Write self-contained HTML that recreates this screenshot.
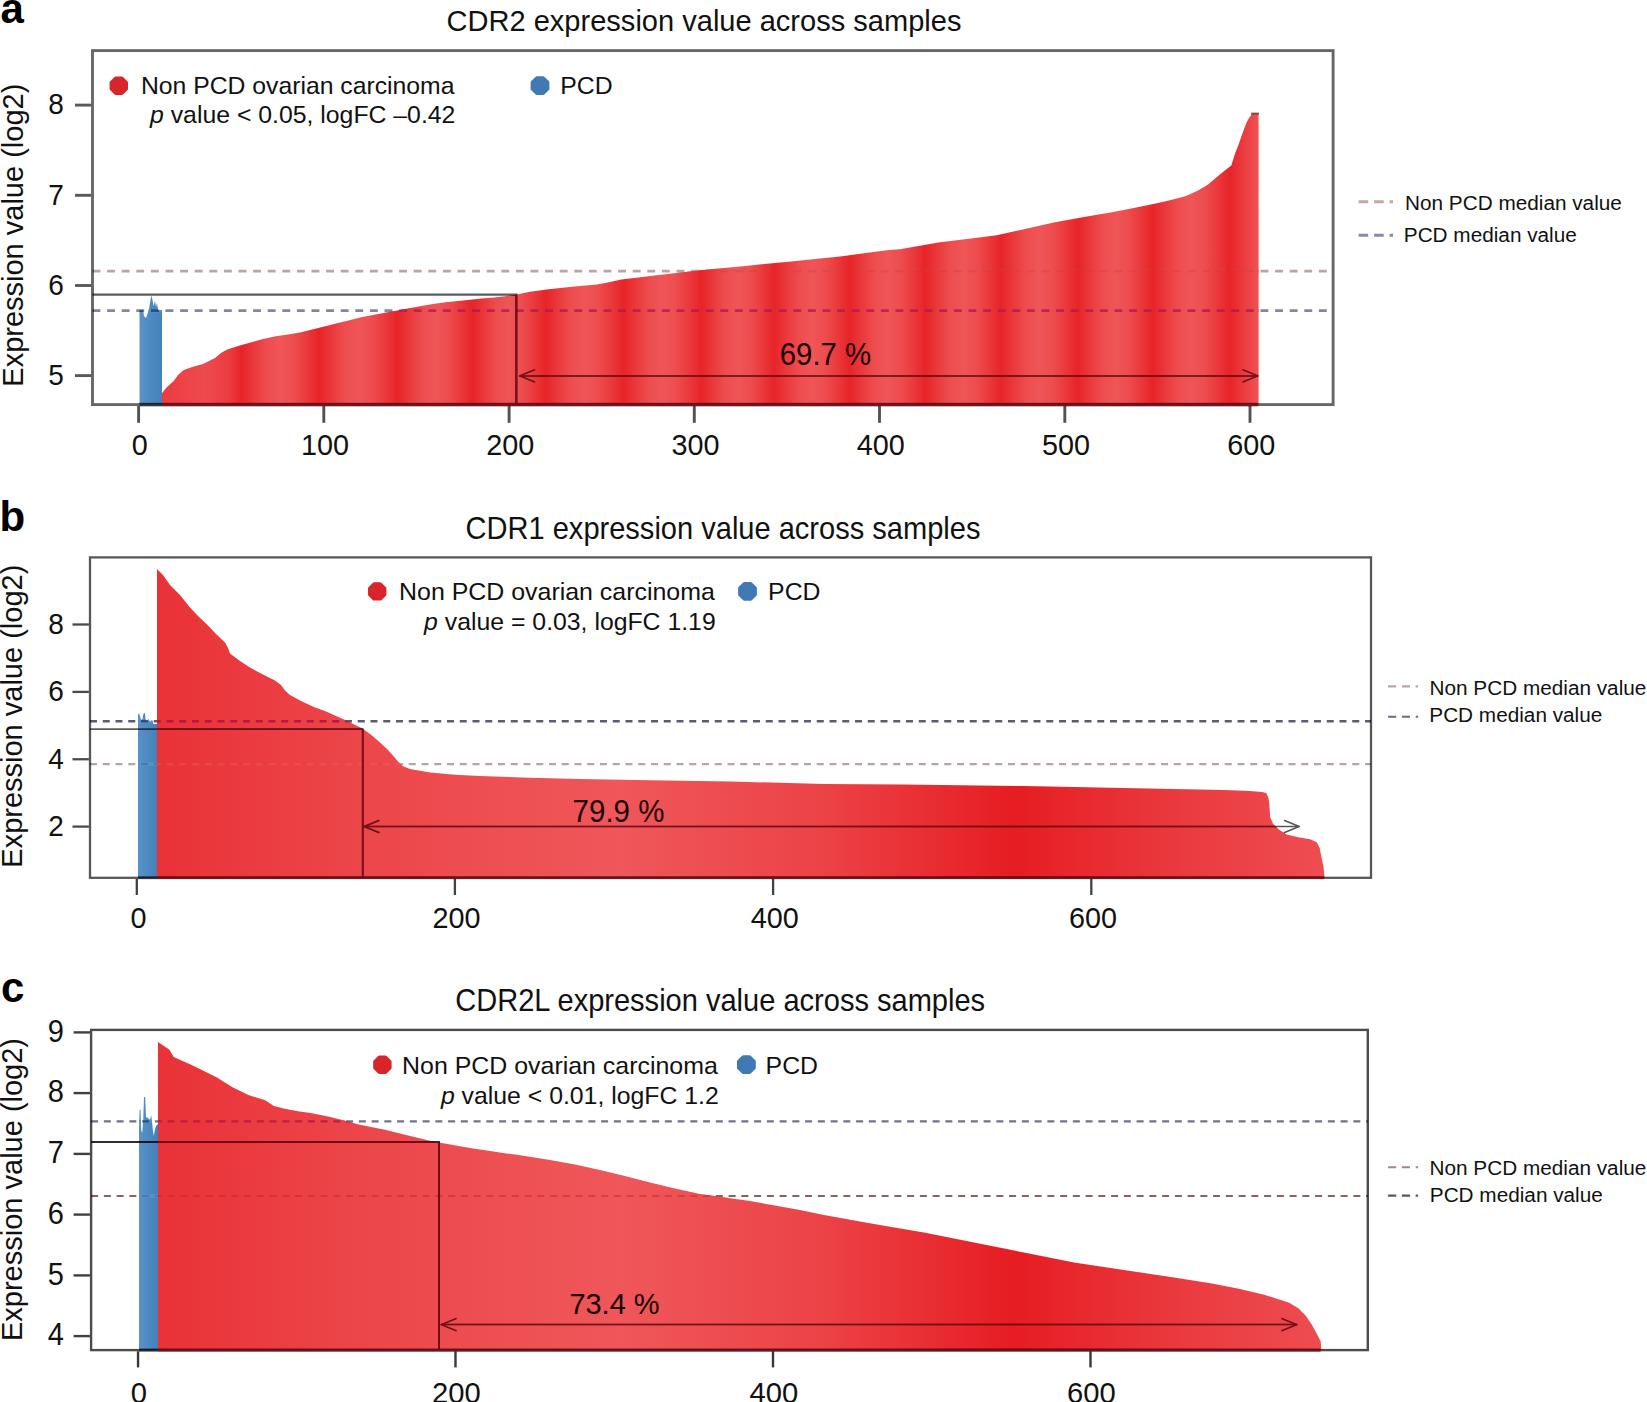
<!DOCTYPE html>
<html lang="en"><head><meta charset="utf-8"><title>CDR expression value across samples</title>
<style>
html,body{margin:0;padding:0;background:#fff;}
body{width:1647px;height:1402px;overflow:hidden;}
svg{display:block;font-family:'Liberation Sans', Arial, Helvetica, sans-serif;}
</style></head><body>
<svg width="1647" height="1402" viewBox="0 0 1647 1402">
<defs>
<linearGradient id="ga" gradientUnits="userSpaceOnUse" x1="162" y1="0" x2="1259" y2="0">
<stop offset="0.0000" stop-color="#eb3c42"/>
<stop offset="0.0392" stop-color="#ee4a4f"/>
<stop offset="0.0611" stop-color="#eb3c40"/>
<stop offset="0.0723" stop-color="#e72428"/>
<stop offset="0.0837" stop-color="#ea393c"/>
<stop offset="0.0958" stop-color="#ee4d4f"/>
<stop offset="0.1078" stop-color="#ef5557"/>
<stop offset="0.1199" stop-color="#ee4d4f"/>
<stop offset="0.1320" stop-color="#ea393c"/>
<stop offset="0.1434" stop-color="#e72428"/>
<stop offset="0.1548" stop-color="#ea393c"/>
<stop offset="0.1669" stop-color="#ee4d4f"/>
<stop offset="0.1791" stop-color="#ef5557"/>
<stop offset="0.1912" stop-color="#ee4d4f"/>
<stop offset="0.2033" stop-color="#ea393c"/>
<stop offset="0.2148" stop-color="#e72428"/>
<stop offset="0.2257" stop-color="#ea393c"/>
<stop offset="0.2373" stop-color="#ee4d4f"/>
<stop offset="0.2490" stop-color="#ef5557"/>
<stop offset="0.2606" stop-color="#ee4d4f"/>
<stop offset="0.2722" stop-color="#ea393c"/>
<stop offset="0.2831" stop-color="#e72428"/>
<stop offset="0.2938" stop-color="#ea393c"/>
<stop offset="0.3051" stop-color="#ee4d4f"/>
<stop offset="0.3164" stop-color="#ef5557"/>
<stop offset="0.3277" stop-color="#ee4d4f"/>
<stop offset="0.3390" stop-color="#ea393c"/>
<stop offset="0.3496" stop-color="#e72428"/>
<stop offset="0.3610" stop-color="#ea393c"/>
<stop offset="0.3731" stop-color="#ee4d4f"/>
<stop offset="0.3852" stop-color="#ef5557"/>
<stop offset="0.3973" stop-color="#ee4d4f"/>
<stop offset="0.4094" stop-color="#ea393c"/>
<stop offset="0.4208" stop-color="#e72428"/>
<stop offset="0.4321" stop-color="#ea393c"/>
<stop offset="0.4442" stop-color="#ee4d4f"/>
<stop offset="0.4563" stop-color="#ef5557"/>
<stop offset="0.4684" stop-color="#ee4d4f"/>
<stop offset="0.4804" stop-color="#ea393c"/>
<stop offset="0.4918" stop-color="#e72428"/>
<stop offset="0.5024" stop-color="#ea393c"/>
<stop offset="0.5137" stop-color="#ee4d4f"/>
<stop offset="0.5250" stop-color="#ef5557"/>
<stop offset="0.5363" stop-color="#ee4d4f"/>
<stop offset="0.5476" stop-color="#ea393c"/>
<stop offset="0.5582" stop-color="#e72428"/>
<stop offset="0.5692" stop-color="#ea393c"/>
<stop offset="0.5809" stop-color="#ee4d4f"/>
<stop offset="0.5926" stop-color="#ef5557"/>
<stop offset="0.6042" stop-color="#ee4d4f"/>
<stop offset="0.6159" stop-color="#ea393c"/>
<stop offset="0.6269" stop-color="#e72428"/>
<stop offset="0.6379" stop-color="#ea393c"/>
<stop offset="0.6496" stop-color="#ee4d4f"/>
<stop offset="0.6613" stop-color="#ef5557"/>
<stop offset="0.6731" stop-color="#ee4d4f"/>
<stop offset="0.6848" stop-color="#ea393c"/>
<stop offset="0.6958" stop-color="#e72428"/>
<stop offset="0.7068" stop-color="#ea393c"/>
<stop offset="0.7186" stop-color="#ee4d4f"/>
<stop offset="0.7303" stop-color="#ef5557"/>
<stop offset="0.7420" stop-color="#ee4d4f"/>
<stop offset="0.7538" stop-color="#ea393c"/>
<stop offset="0.7648" stop-color="#e72428"/>
<stop offset="0.7760" stop-color="#ea393c"/>
<stop offset="0.7880" stop-color="#ee4d4f"/>
<stop offset="0.7999" stop-color="#ef5557"/>
<stop offset="0.8118" stop-color="#ee4d4f"/>
<stop offset="0.8238" stop-color="#ea393c"/>
<stop offset="0.8350" stop-color="#e72428"/>
<stop offset="0.8459" stop-color="#ea393c"/>
<stop offset="0.8575" stop-color="#ee4d4f"/>
<stop offset="0.8691" stop-color="#ef5557"/>
<stop offset="0.8807" stop-color="#ee4d4f"/>
<stop offset="0.8923" stop-color="#ea393c"/>
<stop offset="0.9032" stop-color="#e72428"/>
<stop offset="0.9144" stop-color="#ea393c"/>
<stop offset="0.9263" stop-color="#ee4d4f"/>
<stop offset="0.9382" stop-color="#ef5557"/>
<stop offset="0.9502" stop-color="#ee4d4f"/>
<stop offset="0.9621" stop-color="#ea393c"/>
<stop offset="0.9733" stop-color="#e72428"/>
<stop offset="0.9844" stop-color="#ea393c"/>
<stop offset="0.9962" stop-color="#ee4d4f"/>
<stop offset="1.0079" stop-color="#ef5557"/>
<stop offset="1.0197" stop-color="#ee4d4f"/>
</linearGradient>
<linearGradient id="gb" gradientUnits="userSpaceOnUse" x1="157" y1="0" x2="1325" y2="0">
<stop offset="0.0000" stop-color="#e93237"/>
<stop offset="0.1738" stop-color="#ec464a"/>
<stop offset="0.3964" stop-color="#ef575a"/>
<stop offset="0.5676" stop-color="#ec4347"/>
<stop offset="0.7337" stop-color="#e61d22"/>
<stop offset="0.8759" stop-color="#ea3a3f"/>
<stop offset="1.0000" stop-color="#ee4d52"/>
</linearGradient>
<linearGradient id="gc" gradientUnits="userSpaceOnUse" x1="157" y1="0" x2="1325" y2="0">
<stop offset="0.0000" stop-color="#e93237"/>
<stop offset="0.1738" stop-color="#ec464a"/>
<stop offset="0.3964" stop-color="#ef575a"/>
<stop offset="0.5676" stop-color="#ec4347"/>
<stop offset="0.7337" stop-color="#e61d22"/>
<stop offset="0.8759" stop-color="#ea3a3f"/>
<stop offset="1.0000" stop-color="#ee4d52"/>
</linearGradient>
<linearGradient id="gblue" x1="0" y1="0" x2="1" y2="0"><stop offset="0" stop-color="#5893c8"/><stop offset="1" stop-color="#4381ba"/></linearGradient>
</defs>
<rect width="1647" height="1402" fill="#fff"/>
<text transform="translate(22.8,235.2) rotate(-90)" font-size="29.0" text-anchor="middle" fill="#111">Expression value (log2)</text>
<text transform="translate(704,31) scale(1,1.045)" font-size="29.05" text-anchor="middle" fill="#111" >CDR2 expression value across samples</text>
<text x="0.5" y="23" font-size="42" text-anchor="start" fill="#000" font-weight="bold">a</text>
<polygon points="139.5,404.5 139.5,310.0 143.0,310.0 144.0,316.0 146.0,318.0 147.5,314.0 149.0,309.0 150.5,300.0 151.5,295.5 152.5,300.0 153.5,306.0 155.0,301.0 156.0,307.0 157.0,303.0 158.0,310.0 162.0,310.0 162.0,404.5" fill="url(#gblue)"/>
<clipPath id="cra"><polygon points="162.0,406.6 162.0,393.3 166.0,388.0 173.7,381.1 178.0,375.0 183.4,370.2 192.0,367.0 202.9,364.1 215.0,358.0 221.0,353.0 227.1,349.6 238.0,346.0 251.4,342.3 263.0,339.0 275.7,336.2 288.0,334.5 300.0,332.6 312.0,329.5 324.3,326.5 336.0,323.5 348.6,320.4 360.0,317.5 372.9,315.0 385.0,312.8 397.0,310.7 409.0,308.2 421.4,305.9 433.0,304.0 445.7,302.2 458.0,301.0 470.0,299.8 482.0,298.6 494.3,297.4 505.0,296.2 517.0,294.6 530.0,291.8 548.6,289.3 572.0,286.8 597.0,284.4 610.0,282.0 621.4,279.6 657.0,275.3 694.3,271.0 718.0,268.6 742.9,266.2 767.0,263.8 791.4,261.4 815.0,259.0 840.0,256.5 864.0,253.3 888.6,250.0 900.0,249.2 938.3,242.6 967.0,239.0 996.6,235.3 1025.0,229.0 1054.9,222.2 1084.0,217.0 1113.2,212.0 1135.0,207.8 1156.9,203.2 1172.0,199.8 1186.0,195.9 1198.0,190.5 1207.7,184.7 1218.6,175.6 1227.7,168.3 1231.3,165.6 1233.0,160.0 1235.0,153.8 1238.6,144.6 1242.3,133.7 1245.0,126.4 1247.3,121.0 1249.5,117.3 1252.3,113.5 1258.6,113.5 1258.6,406.6"/></clipPath>
<clipPath id="cba"><polygon points="139.5,404.5 139.5,310.0 143.0,310.0 144.0,316.0 146.0,318.0 147.5,314.0 149.0,309.0 150.5,300.0 151.5,295.5 152.5,300.0 153.5,306.0 155.0,301.0 156.0,307.0 157.0,303.0 158.0,310.0 162.0,310.0 162.0,404.5"/></clipPath>
<polygon points="162.0,404.6 162.0,393.3 166.0,388.0 173.7,381.1 178.0,375.0 183.4,370.2 192.0,367.0 202.9,364.1 215.0,358.0 221.0,353.0 227.1,349.6 238.0,346.0 251.4,342.3 263.0,339.0 275.7,336.2 288.0,334.5 300.0,332.6 312.0,329.5 324.3,326.5 336.0,323.5 348.6,320.4 360.0,317.5 372.9,315.0 385.0,312.8 397.0,310.7 409.0,308.2 421.4,305.9 433.0,304.0 445.7,302.2 458.0,301.0 470.0,299.8 482.0,298.6 494.3,297.4 505.0,296.2 517.0,294.6 530.0,291.8 548.6,289.3 572.0,286.8 597.0,284.4 610.0,282.0 621.4,279.6 657.0,275.3 694.3,271.0 718.0,268.6 742.9,266.2 767.0,263.8 791.4,261.4 815.0,259.0 840.0,256.5 864.0,253.3 888.6,250.0 900.0,249.2 938.3,242.6 967.0,239.0 996.6,235.3 1025.0,229.0 1054.9,222.2 1084.0,217.0 1113.2,212.0 1135.0,207.8 1156.9,203.2 1172.0,199.8 1186.0,195.9 1198.0,190.5 1207.7,184.7 1218.6,175.6 1227.7,168.3 1231.3,165.6 1233.0,160.0 1235.0,153.8 1238.6,144.6 1242.3,133.7 1245.0,126.4 1247.3,121.0 1249.5,117.3 1252.3,113.5 1258.6,113.5 1258.6,404.6" fill="url(#ga)"/>
<line x1="92.5" y1="271.1" x2="1333.1" y2="271.1" stroke="#b9a6a2" stroke-width="2.7" stroke-dasharray="7.9 6.7" opacity="1"/>
<line x1="92.5" y1="310.6" x2="1333.1" y2="310.6" stroke="#85859f" stroke-width="2.7" stroke-dasharray="7.9 6.7" opacity="1"/>
<g clip-path="url(#cra)"><rect x="92.5" y="269.25" width="1240.6" height="3.7" fill="url(#ga)"/><rect x="92.5" y="308.75" width="1240.6" height="3.7" fill="url(#ga)"/></g>
<line x1="92.5" y1="271.1" x2="1333.1" y2="271.1" stroke="#cf3a42" stroke-width="2.7" stroke-dasharray="7.9 6.7" opacity="0.3" clip-path="url(#cra)"/>
<line x1="92.5" y1="310.6" x2="1333.1" y2="310.6" stroke="#b5184f" stroke-width="2.7" stroke-dasharray="7.9 6.7" opacity="0.78" clip-path="url(#cra)"/>
<g clip-path="url(#cba)"><rect x="92.5" y="269.25" width="1240.6" height="3.7" fill="url(#gblue)"/><rect x="92.5" y="308.75" width="1240.6" height="3.7" fill="url(#gblue)"/></g>
<line x1="92.5" y1="310.6" x2="1333.1" y2="310.6" stroke="#1f3f74" stroke-width="2.7" stroke-dasharray="7.9 6.7" opacity="0.8" clip-path="url(#cba)"/>
<line x1="92.5" y1="271.1" x2="1333.1" y2="271.1" stroke="#44618c" stroke-width="2.7" stroke-dasharray="7.9 6.7" opacity="0.5" clip-path="url(#cba)"/>
<line x1="139.5" y1="404.6" x2="1257.6" y2="404.6" stroke="#000" stroke-opacity="0.42" stroke-width="3.5999999999999996"/>
<rect x="92.5" y="50.6" width="1240.6" height="354.0" fill="none" stroke="#000" stroke-opacity="0.6" stroke-width="2.9"/>
<polyline points="92.5,294.6 516.3,294.6 516.3,404.6" fill="none" stroke="#000" stroke-opacity="0.64" stroke-width="2.3"/>
<g stroke="#000" stroke-width="1.5" fill="none" stroke-linecap="round" stroke-linejoin="round" opacity="0.66"><line x1="519.6999999999999" y1="375.9" x2="1257.8" y2="375.9"/><polyline points="534.4,369.9 519.6999999999999,375.9 534.4,381.9"/><polyline points="1243.1,369.9 1257.8,375.9 1243.1,381.9"/></g>
<g clip-path="url(#cra)"><rect x="92.5" y="50.6" width="1240.6" height="354.0" fill="none" stroke="#8a0c18" stroke-opacity="0.75" stroke-width="2.9"/>
<polyline points="92.5,294.6 516.3,294.6 516.3,404.6" fill="none" stroke="#8a0c18" stroke-opacity="0.75" stroke-width="2.3"/>
<g stroke="#8a0c18" stroke-width="1.5" fill="none" stroke-linecap="round" stroke-linejoin="round" opacity="0.7"><line x1="519.6999999999999" y1="375.9" x2="1257.8" y2="375.9"/><polyline points="534.4,369.9 519.6999999999999,375.9 534.4,381.9"/><polyline points="1243.1,369.9 1257.8,375.9 1243.1,381.9"/></g></g>
<text transform="translate(825.5,365.4) scale(1,1.06)" font-size="29.4" text-anchor="middle" fill="#1a0003" >69.7 %</text>
<line x1="75.0" y1="105.1" x2="91.05" y2="105.1" stroke="#000" stroke-opacity="0.65" stroke-width="2.9"/>
<text transform="translate(63.8,114.39999999999999) scale(1,1.05)" font-size="28" text-anchor="end" fill="#111" >8</text>
<line x1="75.0" y1="195.3" x2="91.05" y2="195.3" stroke="#000" stroke-opacity="0.65" stroke-width="2.9"/>
<text transform="translate(63.8,204.60000000000002) scale(1,1.05)" font-size="28" text-anchor="end" fill="#111" >7</text>
<line x1="75.0" y1="285.5" x2="91.05" y2="285.5" stroke="#000" stroke-opacity="0.65" stroke-width="2.9"/>
<text transform="translate(63.8,294.8) scale(1,1.05)" font-size="28" text-anchor="end" fill="#111" >6</text>
<line x1="75.0" y1="375.6" x2="91.05" y2="375.6" stroke="#000" stroke-opacity="0.65" stroke-width="2.9"/>
<text transform="translate(63.8,384.90000000000003) scale(1,1.05)" font-size="28" text-anchor="end" fill="#111" >5</text>
<line x1="138.6" y1="406.05" x2="138.6" y2="422.8" stroke="#000" stroke-opacity="0.6799999999999999" stroke-width="2.9"/>
<text transform="translate(139.79999999999998,455.0) scale(1,1.03)" font-size="28.8" text-anchor="middle" fill="#111" >0</text>
<line x1="323.8" y1="406.05" x2="323.8" y2="422.8" stroke="#000" stroke-opacity="0.6799999999999999" stroke-width="2.9"/>
<text transform="translate(325.0,455.0) scale(1,1.03)" font-size="28.8" text-anchor="middle" fill="#111" >100</text>
<line x1="509.1" y1="406.05" x2="509.1" y2="422.8" stroke="#000" stroke-opacity="0.6799999999999999" stroke-width="2.9"/>
<text transform="translate(510.3,455.0) scale(1,1.03)" font-size="28.8" text-anchor="middle" fill="#111" >200</text>
<line x1="694.3" y1="406.05" x2="694.3" y2="422.8" stroke="#000" stroke-opacity="0.6799999999999999" stroke-width="2.9"/>
<text transform="translate(695.5,455.0) scale(1,1.03)" font-size="28.8" text-anchor="middle" fill="#111" >300</text>
<line x1="879.5" y1="406.05" x2="879.5" y2="422.8" stroke="#000" stroke-opacity="0.6799999999999999" stroke-width="2.9"/>
<text transform="translate(880.7,455.0) scale(1,1.03)" font-size="28.8" text-anchor="middle" fill="#111" >400</text>
<line x1="1064.8" y1="406.05" x2="1064.8" y2="422.8" stroke="#000" stroke-opacity="0.6799999999999999" stroke-width="2.9"/>
<text transform="translate(1066.0,455.0) scale(1,1.03)" font-size="28.8" text-anchor="middle" fill="#111" >500</text>
<line x1="1250" y1="406.05" x2="1250" y2="422.8" stroke="#000" stroke-opacity="0.6799999999999999" stroke-width="2.9"/>
<text transform="translate(1251.2,455.0) scale(1,1.03)" font-size="28.8" text-anchor="middle" fill="#111" >600</text>
<polygon points="126.5,89.0 122.0,93.5 115.6,93.5 111.1,89.0 111.1,82.6 115.6,78.1 122.0,78.1 126.5,82.6" fill="#d8252c" stroke="#d8252c" stroke-width="3.0" stroke-linejoin="round"/>
<text x="140.9" y="93.6" font-size="24.8" text-anchor="start" fill="#111" textLength="313.6" lengthAdjust="spacingAndGlyphs">Non PCD ovarian carcinoma</text>
<text x="455.4" y="123.39999999999999" font-size="24.8" text-anchor="end" fill="#111" ><tspan font-style="italic">p</tspan> value &lt; 0.05, logFC –0.42</text>
<polygon points="547.9,88.9 543.3,93.5 536.7,93.5 532.1,88.9 532.1,82.3 536.7,77.7 543.3,77.7 547.9,82.3" fill="#4079b4" stroke="#4079b4" stroke-width="3.0" stroke-linejoin="round"/>
<text x="560.3" y="93.6" font-size="24.8" text-anchor="start" fill="#111" >PCD</text>
<line x1="1358.6" y1="201.7" x2="1393" y2="201.7" stroke="#c6a89e" stroke-width="2.9" stroke-dasharray="9.6 5.9"/>
<line x1="1358.6" y1="235.2" x2="1393" y2="235.2" stroke="#8a8ab0" stroke-width="2.9" stroke-dasharray="9.6 5.9"/>
<text x="1405" y="209.7" font-size="20.75" text-anchor="start" fill="#111" >Non PCD median value</text>
<text x="1403.8" y="241.8" font-size="20.75" text-anchor="start" fill="#111" >PCD median value</text>
<line x1="1251" y1="113.6" x2="1259" y2="113.6" stroke="#6b3a3c" stroke-width="2" opacity="0.8"/>
<text transform="translate(22.3,716.2) rotate(-90)" font-size="29.0" text-anchor="middle" fill="#111">Expression value (log2)</text>
<text transform="translate(723,539.2) scale(1,1.06)" font-size="29.05" text-anchor="middle" fill="#111" >CDR1 expression value across samples</text>
<text x="-0.6" y="531.2" font-size="42" text-anchor="start" fill="#000" font-weight="bold">b</text>
<polygon points="138.0,877.8 138.0,715.0 139.0,713.0 140.0,716.0 141.0,720.0 142.5,719.0 143.5,713.5 145.0,713.0 145.5,719.0 147.0,721.0 148.5,719.0 150.0,722.0 152.0,720.0 153.5,724.0 157.0,724.0 157.0,877.8" fill="url(#gblue)"/>
<clipPath id="crb"><polygon points="157.0,879.8 157.0,569.0 163.0,575.0 170.0,585.0 180.0,595.0 190.0,607.5 198.0,616.0 207.5,625.0 216.0,634.0 225.0,642.5 228.0,648.0 230.0,653.5 240.0,661.0 250.0,667.5 262.0,674.0 275.0,680.5 281.0,685.0 285.0,690.5 290.0,695.0 300.0,700.5 315.0,707.5 325.0,711.0 345.0,720.0 362.5,728.5 372.0,735.5 380.0,742.5 387.0,749.0 392.5,755.0 398.0,761.5 402.5,766.0 410.0,769.0 430.0,772.5 455.0,774.8 480.0,776.0 530.0,777.8 580.0,779.0 650.0,780.3 730.0,781.5 824.0,784.0 903.5,784.6 1024.0,786.0 1124.0,788.0 1224.0,790.0 1250.0,791.0 1262.0,792.0 1266.2,793.0 1268.5,798.0 1269.4,805.0 1270.1,817.0 1273.0,823.7 1278.9,829.6 1286.6,834.4 1298.3,837.3 1310.0,839.3 1316.8,842.2 1319.7,848.0 1321.6,857.7 1323.6,867.5 1324.6,877.8 1324.6,879.8"/></clipPath>
<clipPath id="cbb"><polygon points="138.0,877.8 138.0,715.0 139.0,713.0 140.0,716.0 141.0,720.0 142.5,719.0 143.5,713.5 145.0,713.0 145.5,719.0 147.0,721.0 148.5,719.0 150.0,722.0 152.0,720.0 153.5,724.0 157.0,724.0 157.0,877.8"/></clipPath>
<polygon points="157.0,877.8 157.0,569.0 163.0,575.0 170.0,585.0 180.0,595.0 190.0,607.5 198.0,616.0 207.5,625.0 216.0,634.0 225.0,642.5 228.0,648.0 230.0,653.5 240.0,661.0 250.0,667.5 262.0,674.0 275.0,680.5 281.0,685.0 285.0,690.5 290.0,695.0 300.0,700.5 315.0,707.5 325.0,711.0 345.0,720.0 362.5,728.5 372.0,735.5 380.0,742.5 387.0,749.0 392.5,755.0 398.0,761.5 402.5,766.0 410.0,769.0 430.0,772.5 455.0,774.8 480.0,776.0 530.0,777.8 580.0,779.0 650.0,780.3 730.0,781.5 824.0,784.0 903.5,784.6 1024.0,786.0 1124.0,788.0 1224.0,790.0 1250.0,791.0 1262.0,792.0 1266.2,793.0 1268.5,798.0 1269.4,805.0 1270.1,817.0 1273.0,823.7 1278.9,829.6 1286.6,834.4 1298.3,837.3 1310.0,839.3 1316.8,842.2 1319.7,848.0 1321.6,857.7 1323.6,867.5 1324.6,877.8 1324.6,877.8" fill="url(#gb)"/>
<line x1="90" y1="764.1" x2="1371" y2="764.1" stroke="#b7a5a4" stroke-width="2.4" stroke-dasharray="7 5.75" opacity="1"/>
<line x1="90" y1="721.2" x2="1371" y2="721.2" stroke="#5a5c70" stroke-width="2.4" stroke-dasharray="7 5.75" opacity="1"/>
<g clip-path="url(#crb)"><rect x="90" y="762.4" width="1281" height="3.4" fill="url(#gb)"/><rect x="90" y="719.5" width="1281" height="3.4" fill="url(#gb)"/></g>
<line x1="90" y1="764.1" x2="1371" y2="764.1" stroke="#f2666c" stroke-width="2.4" stroke-dasharray="7 5.75" opacity="0.3" clip-path="url(#crb)"/>
<line x1="90" y1="721.2" x2="1371" y2="721.2" stroke="#b01045" stroke-width="2.4" stroke-dasharray="7 5.75" opacity="0.85" clip-path="url(#crb)"/>
<g clip-path="url(#cbb)"><rect x="90" y="762.4" width="1281" height="3.4" fill="url(#gblue)"/><rect x="90" y="719.5" width="1281" height="3.4" fill="url(#gblue)"/></g>
<line x1="90" y1="721.2" x2="1371" y2="721.2" stroke="#1f3f74" stroke-width="2.4" stroke-dasharray="7 5.75" opacity="0.8" clip-path="url(#cbb)"/>
<line x1="90" y1="764.1" x2="1371" y2="764.1" stroke="#44618c" stroke-width="2.4" stroke-dasharray="7 5.75" opacity="0.5" clip-path="url(#cbb)"/>
<line x1="138" y1="877.8" x2="1323.6" y2="877.8" stroke="#000" stroke-opacity="0.42" stroke-width="3.0"/>
<rect x="90" y="557.4" width="1281" height="320.4" fill="none" stroke="#000" stroke-opacity="0.66" stroke-width="2.3"/>
<polyline points="90,729.1 362.8,729.1 362.8,877.8" fill="none" stroke="#000" stroke-opacity="0.64" stroke-width="1.9"/>
<g stroke="#000" stroke-width="1.5" fill="none" stroke-linecap="round" stroke-linejoin="round" opacity="0.66"><line x1="364.20000000000005" y1="826.5" x2="1299.2" y2="826.5"/><polyline points="378.90000000000003,820.5 364.20000000000005,826.5 378.90000000000003,832.5"/><polyline points="1284.5,820.5 1299.2,826.5 1284.5,832.5"/></g>
<g clip-path="url(#crb)"><rect x="90" y="557.4" width="1281" height="320.4" fill="none" stroke="#8a0c18" stroke-opacity="0.75" stroke-width="2.3"/>
<polyline points="90,729.1 362.8,729.1 362.8,877.8" fill="none" stroke="#8a0c18" stroke-opacity="0.75" stroke-width="1.9"/>
<g stroke="#8a0c18" stroke-width="1.5" fill="none" stroke-linecap="round" stroke-linejoin="round" opacity="0.7"><line x1="364.20000000000005" y1="826.5" x2="1299.2" y2="826.5"/><polyline points="378.90000000000003,820.5 364.20000000000005,826.5 378.90000000000003,832.5"/><polyline points="1284.5,820.5 1299.2,826.5 1284.5,832.5"/></g></g>
<text transform="translate(618.5,821.7) scale(1,1.05)" font-size="29.5" text-anchor="middle" fill="#1a0003" >79.9 %</text>
<line x1="72.5" y1="624.5" x2="88.85" y2="624.5" stroke="#000" stroke-opacity="0.7100000000000001" stroke-width="2.3"/>
<text transform="translate(63.8,633.8) scale(1,1.05)" font-size="28" text-anchor="end" fill="#111" >8</text>
<line x1="72.5" y1="691.9" x2="88.85" y2="691.9" stroke="#000" stroke-opacity="0.7100000000000001" stroke-width="2.3"/>
<text transform="translate(63.8,701.1999999999999) scale(1,1.05)" font-size="28" text-anchor="end" fill="#111" >6</text>
<line x1="72.5" y1="759.25" x2="88.85" y2="759.25" stroke="#000" stroke-opacity="0.7100000000000001" stroke-width="2.3"/>
<text transform="translate(63.8,768.55) scale(1,1.05)" font-size="28" text-anchor="end" fill="#111" >4</text>
<line x1="72.5" y1="826.6" x2="88.85" y2="826.6" stroke="#000" stroke-opacity="0.7100000000000001" stroke-width="2.3"/>
<text transform="translate(63.8,835.9) scale(1,1.05)" font-size="28" text-anchor="end" fill="#111" >2</text>
<line x1="136.8" y1="878.9499999999999" x2="136.8" y2="895.0" stroke="#000" stroke-opacity="0.74" stroke-width="2.3"/>
<text transform="translate(138.4,927.5999999999999) scale(1,1.03)" font-size="28.8" text-anchor="middle" fill="#111" >0</text>
<line x1="454.9" y1="878.9499999999999" x2="454.9" y2="895.0" stroke="#000" stroke-opacity="0.74" stroke-width="2.3"/>
<text transform="translate(456.5,927.5999999999999) scale(1,1.03)" font-size="28.8" text-anchor="middle" fill="#111" >200</text>
<line x1="773.1" y1="878.9499999999999" x2="773.1" y2="895.0" stroke="#000" stroke-opacity="0.74" stroke-width="2.3"/>
<text transform="translate(774.7,927.5999999999999) scale(1,1.03)" font-size="28.8" text-anchor="middle" fill="#111" >400</text>
<line x1="1091.3" y1="878.9499999999999" x2="1091.3" y2="895.0" stroke="#000" stroke-opacity="0.74" stroke-width="2.3"/>
<text transform="translate(1092.8999999999999,927.5999999999999) scale(1,1.03)" font-size="28.8" text-anchor="middle" fill="#111" >600</text>
<polygon points="384.9,594.6 380.4,599.1 374.0,599.1 369.5,594.6 369.5,588.2 374.0,583.7 380.4,583.7 384.9,588.2" fill="#d8252c" stroke="#d8252c" stroke-width="3.0" stroke-linejoin="round"/>
<text x="399.1" y="600.0" font-size="24.8" text-anchor="start" fill="#111" textLength="315.7" lengthAdjust="spacingAndGlyphs">Non PCD ovarian carcinoma</text>
<text x="715.6999999999999" y="629.7" font-size="24.8" text-anchor="end" fill="#111" ><tspan font-style="italic">p</tspan> value = 0.03, logFC 1.19</text>
<polygon points="755.4,594.7 750.8,599.3 744.2,599.3 739.6,594.7 739.6,588.1 744.2,583.5 750.8,583.5 755.4,588.1" fill="#4079b4" stroke="#4079b4" stroke-width="3.0" stroke-linejoin="round"/>
<text x="768.1" y="600.0" font-size="24.8" text-anchor="start" fill="#111" >PCD</text>
<line x1="1388.1" y1="686.4" x2="1418.1" y2="686.4" stroke="#bba4a4" stroke-width="2.1" stroke-dasharray="8.1 5.7"/>
<line x1="1388.1" y1="716.7" x2="1418.1" y2="716.7" stroke="#6a6a86" stroke-width="2.1" stroke-dasharray="8.1 5.7"/>
<text x="1429.5" y="694.9" font-size="20.75" text-anchor="start" fill="#111" >Non PCD median value</text>
<text x="1429.3" y="722.4" font-size="20.75" text-anchor="start" fill="#111" >PCD median value</text>
<text transform="translate(22.3,1189.5) rotate(-90)" font-size="29.0" text-anchor="middle" fill="#111">Expression value (log2)</text>
<text transform="translate(720.2,1011.4) scale(1,1.05)" font-size="29.05" text-anchor="middle" fill="#111" >CDR2L expression value across samples</text>
<text x="1.1" y="1001.6" font-size="42" text-anchor="start" fill="#000" font-weight="bold">c</text>
<polygon points="139.0,1350.1 139.0,1128.0 139.6,1110.0 140.6,1110.0 141.2,1130.0 142.2,1133.0 143.2,1120.0 144.0,1097.0 145.2,1097.0 146.0,1117.0 148.0,1118.0 150.0,1120.0 151.2,1115.0 152.0,1122.0 153.0,1131.0 153.8,1136.0 154.8,1130.0 156.0,1126.0 158.0,1124.0 158.0,1350.1" fill="url(#gblue)"/>
<clipPath id="crc"><polygon points="158.0,1352.1 158.0,1042.0 163.5,1045.8 169.2,1049.6 173.7,1056.9 182.0,1060.8 190.1,1064.2 204.0,1071.0 217.4,1077.8 232.0,1086.9 248.4,1095.1 257.0,1097.8 264.8,1099.9 273.9,1106.1 284.8,1108.8 298.0,1111.2 312.1,1113.3 330.4,1117.0 344.0,1120.5 357.7,1124.3 371.0,1127.0 385.0,1129.7 408.0,1135.4 430.0,1140.7 439.0,1142.6 470.0,1148.0 500.0,1152.5 525.0,1156.0 550.0,1160.0 575.0,1164.5 600.0,1170.0 625.0,1176.0 650.0,1182.5 675.0,1188.5 700.0,1194.0 725.0,1197.5 750.0,1201.0 775.0,1205.5 800.0,1210.0 824.0,1215.0 874.0,1224.0 924.0,1232.5 974.0,1242.5 1024.0,1252.5 1074.0,1262.5 1124.0,1270.0 1174.0,1277.5 1212.0,1283.5 1240.0,1288.9 1264.3,1294.7 1288.6,1302.5 1298.3,1308.3 1306.0,1316.0 1311.9,1324.8 1317.7,1335.5 1320.7,1341.4 1321.3,1350.1 1321.3,1352.1"/></clipPath>
<clipPath id="cbc"><polygon points="139.0,1350.1 139.0,1128.0 139.6,1110.0 140.6,1110.0 141.2,1130.0 142.2,1133.0 143.2,1120.0 144.0,1097.0 145.2,1097.0 146.0,1117.0 148.0,1118.0 150.0,1120.0 151.2,1115.0 152.0,1122.0 153.0,1131.0 153.8,1136.0 154.8,1130.0 156.0,1126.0 158.0,1124.0 158.0,1350.1"/></clipPath>
<polygon points="158.0,1350.1 158.0,1042.0 163.5,1045.8 169.2,1049.6 173.7,1056.9 182.0,1060.8 190.1,1064.2 204.0,1071.0 217.4,1077.8 232.0,1086.9 248.4,1095.1 257.0,1097.8 264.8,1099.9 273.9,1106.1 284.8,1108.8 298.0,1111.2 312.1,1113.3 330.4,1117.0 344.0,1120.5 357.7,1124.3 371.0,1127.0 385.0,1129.7 408.0,1135.4 430.0,1140.7 439.0,1142.6 470.0,1148.0 500.0,1152.5 525.0,1156.0 550.0,1160.0 575.0,1164.5 600.0,1170.0 625.0,1176.0 650.0,1182.5 675.0,1188.5 700.0,1194.0 725.0,1197.5 750.0,1201.0 775.0,1205.5 800.0,1210.0 824.0,1215.0 874.0,1224.0 924.0,1232.5 974.0,1242.5 1024.0,1252.5 1074.0,1262.5 1124.0,1270.0 1174.0,1277.5 1212.0,1283.5 1240.0,1288.9 1264.3,1294.7 1288.6,1302.5 1298.3,1308.3 1306.0,1316.0 1311.9,1324.8 1317.7,1335.5 1320.7,1341.4 1321.3,1350.1 1321.3,1350.1" fill="url(#gc)"/>
<line x1="91.1" y1="1196" x2="1367.8" y2="1196" stroke="#8a6262" stroke-width="2.2" stroke-dasharray="7 5.75" opacity="1"/>
<line x1="91.1" y1="1121.3" x2="1367.8" y2="1121.3" stroke="#70738a" stroke-width="2.2" stroke-dasharray="7 5.75" opacity="1"/>
<g clip-path="url(#crc)"><rect x="91.1" y="1194.4" width="1276.7" height="3.2" fill="url(#gc)"/><rect x="91.1" y="1119.7" width="1276.7" height="3.2" fill="url(#gc)"/></g>
<line x1="91.1" y1="1196" x2="1367.8" y2="1196" stroke="#c5252f" stroke-width="2.2" stroke-dasharray="7 5.75" opacity="0.5" clip-path="url(#crc)"/>
<line x1="91.1" y1="1121.3" x2="1367.8" y2="1121.3" stroke="#bb1646" stroke-width="2.2" stroke-dasharray="7 5.75" opacity="0.85" clip-path="url(#crc)"/>
<g clip-path="url(#cbc)"><rect x="91.1" y="1194.4" width="1276.7" height="3.2" fill="url(#gblue)"/><rect x="91.1" y="1119.7" width="1276.7" height="3.2" fill="url(#gblue)"/></g>
<line x1="91.1" y1="1121.3" x2="1367.8" y2="1121.3" stroke="#1f3f74" stroke-width="2.2" stroke-dasharray="7 5.75" opacity="0.8" clip-path="url(#cbc)"/>
<line x1="91.1" y1="1196" x2="1367.8" y2="1196" stroke="#44618c" stroke-width="2.2" stroke-dasharray="7 5.75" opacity="0.5" clip-path="url(#cbc)"/>
<line x1="139" y1="1350.1" x2="1320.3" y2="1350.1" stroke="#000" stroke-opacity="0.42" stroke-width="3.0999999999999996"/>
<rect x="91.1" y="1029.9" width="1276.7" height="320.1999999999998" fill="none" stroke="#000" stroke-opacity="0.7" stroke-width="2.4"/>
<polyline points="91.1,1142.1 439,1142.1 439,1350.1" fill="none" stroke="#000" stroke-opacity="0.82" stroke-width="2.0"/>
<g stroke="#000" stroke-width="1.5" fill="none" stroke-linecap="round" stroke-linejoin="round" opacity="0.66"><line x1="441.3" y1="1324.6" x2="1296.7" y2="1324.6"/><polyline points="456.0,1318.6 441.3,1324.6 456.0,1330.6"/><polyline points="1282.0,1318.6 1296.7,1324.6 1282.0,1330.6"/></g>
<g clip-path="url(#crc)"><rect x="91.1" y="1029.9" width="1276.7" height="320.1999999999998" fill="none" stroke="#8a0c18" stroke-opacity="0.75" stroke-width="2.4"/>
<polyline points="91.1,1142.1 439,1142.1 439,1350.1" fill="none" stroke="#8a0c18" stroke-opacity="0.75" stroke-width="2.0"/>
<g stroke="#8a0c18" stroke-width="1.5" fill="none" stroke-linecap="round" stroke-linejoin="round" opacity="0.7"><line x1="441.3" y1="1324.6" x2="1296.7" y2="1324.6"/><polyline points="456.0,1318.6 441.3,1324.6 456.0,1330.6"/><polyline points="1282.0,1318.6 1296.7,1324.6 1282.0,1330.6"/></g></g>
<text transform="translate(614.5,1314) scale(1,1.02)" font-size="29" text-anchor="middle" fill="#1a0003" >73.4 %</text>
<line x1="73.6" y1="1032.4" x2="89.89999999999999" y2="1032.4" stroke="#000" stroke-opacity="0.75" stroke-width="2.4"/>
<text transform="translate(63.8,1041.7) scale(1,1.05)" font-size="29" text-anchor="end" fill="#111" >9</text>
<line x1="73.6" y1="1093.1" x2="89.89999999999999" y2="1093.1" stroke="#000" stroke-opacity="0.75" stroke-width="2.4"/>
<text transform="translate(63.8,1102.3999999999999) scale(1,1.05)" font-size="29" text-anchor="end" fill="#111" >8</text>
<line x1="73.6" y1="1153.9" x2="89.89999999999999" y2="1153.9" stroke="#000" stroke-opacity="0.75" stroke-width="2.4"/>
<text transform="translate(63.8,1163.2) scale(1,1.05)" font-size="29" text-anchor="end" fill="#111" >7</text>
<line x1="73.6" y1="1214.6" x2="89.89999999999999" y2="1214.6" stroke="#000" stroke-opacity="0.75" stroke-width="2.4"/>
<text transform="translate(63.8,1223.8999999999999) scale(1,1.05)" font-size="29" text-anchor="end" fill="#111" >6</text>
<line x1="73.6" y1="1275.4" x2="89.89999999999999" y2="1275.4" stroke="#000" stroke-opacity="0.75" stroke-width="2.4"/>
<text transform="translate(63.8,1284.7) scale(1,1.05)" font-size="29" text-anchor="end" fill="#111" >5</text>
<line x1="73.6" y1="1336.1" x2="89.89999999999999" y2="1336.1" stroke="#000" stroke-opacity="0.75" stroke-width="2.4"/>
<text transform="translate(63.8,1345.3999999999999) scale(1,1.05)" font-size="29" text-anchor="end" fill="#111" >4</text>
<line x1="138.05" y1="1351.3" x2="138.05" y2="1367.3999999999999" stroke="#000" stroke-opacity="0.7799999999999999" stroke-width="2.4"/>
<text transform="translate(138.85000000000002,1402.5) scale(1,1.03)" font-size="29.2" text-anchor="middle" fill="#111" >0</text>
<line x1="455.5" y1="1351.3" x2="455.5" y2="1367.3999999999999" stroke="#000" stroke-opacity="0.7799999999999999" stroke-width="2.4"/>
<text transform="translate(456.3,1402.5) scale(1,1.03)" font-size="29.2" text-anchor="middle" fill="#111" >200</text>
<line x1="773" y1="1351.3" x2="773" y2="1367.3999999999999" stroke="#000" stroke-opacity="0.7799999999999999" stroke-width="2.4"/>
<text transform="translate(773.8,1402.5) scale(1,1.03)" font-size="29.2" text-anchor="middle" fill="#111" >400</text>
<line x1="1090.5" y1="1351.3" x2="1090.5" y2="1367.3999999999999" stroke="#000" stroke-opacity="0.7799999999999999" stroke-width="2.4"/>
<text transform="translate(1091.3,1402.5) scale(1,1.03)" font-size="29.2" text-anchor="middle" fill="#111" >600</text>
<polygon points="390.1,1067.9 385.6,1072.4 379.2,1072.4 374.7,1067.9 374.7,1061.5 379.2,1057.0 385.6,1057.0 390.1,1061.5" fill="#d8252c" stroke="#d8252c" stroke-width="3.0" stroke-linejoin="round"/>
<text x="402.1" y="1073.8" font-size="24.8" text-anchor="start" fill="#111" textLength="315.7" lengthAdjust="spacingAndGlyphs">Non PCD ovarian carcinoma</text>
<text x="718.6999999999999" y="1103.7" font-size="24.8" text-anchor="end" fill="#111" ><tspan font-style="italic">p</tspan> value &lt; 0.01, logFC 1.2</text>
<polygon points="754.3,1067.9 749.7,1072.5 743.1,1072.5 738.5,1067.9 738.5,1061.3 743.1,1056.7 749.7,1056.7 754.3,1061.3" fill="#4079b4" stroke="#4079b4" stroke-width="3.0" stroke-linejoin="round"/>
<text x="765.6" y="1073.8" font-size="24.8" text-anchor="start" fill="#111" >PCD</text>
<line x1="1388.1" y1="1167.3" x2="1418.1" y2="1167.3" stroke="#a08888" stroke-width="2.1" stroke-dasharray="8.1 5.7"/>
<line x1="1388.1" y1="1195.6" x2="1418.1" y2="1195.6" stroke="#55556a" stroke-width="2.1" stroke-dasharray="8.1 5.7"/>
<text x="1429.5" y="1174.5" font-size="20.75" text-anchor="start" fill="#111" >Non PCD median value</text>
<text x="1429.8" y="1201.6" font-size="20.75" text-anchor="start" fill="#111" >PCD median value</text>
</svg>
</body></html>
